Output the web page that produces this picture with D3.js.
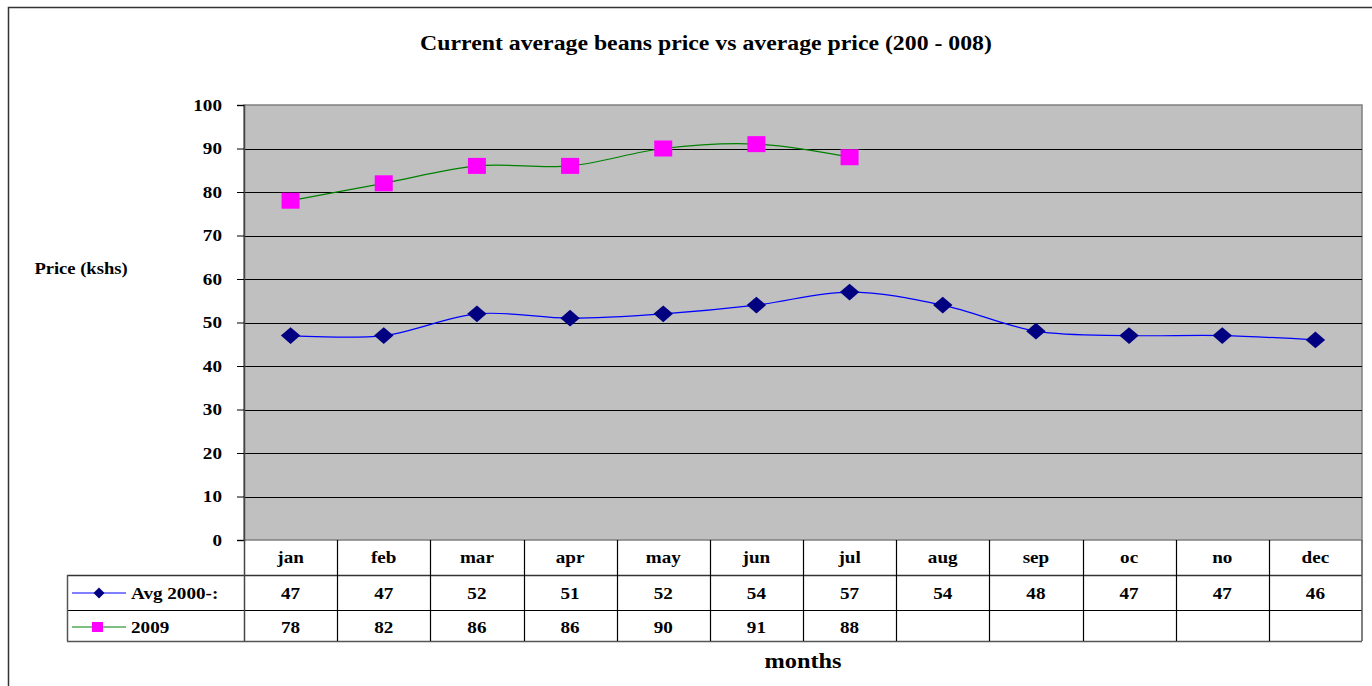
<!DOCTYPE html>
<html>
<head>
<meta charset="utf-8">
<script src="https://cdn.jsdelivr.net/npm/d3@7"></script>
<style>
  body { margin: 0; background: #fff; }
  svg text { font-family: "Liberation Serif", "Times New Roman", serif; font-weight: bold; fill: #000; }
</style>
</head>
<body>
<div id="chart"></div>
<script>
const width = 1372, height = 686;
const plot = { left: 244, right: 1362, top: 105, bottom: 540 };
const stretch = 1.16; // the original text is a little wide

// data
const months = ["jan", "feb", "mar", "apr", "may", "jun", "jul", "aug", "sep", "oc", "no", "dec"];
const avgValues = [47, 47, 52, 51, 52, 54, 57, 54, 48, 47, 47, 46];
const values2009 = [78, 82, 86, 86, 90, 91, 88];
const seriesNames = ["Avg 2000-:", "2009"];
const yTicks = [0, 10, 20, 30, 40, 50, 60, 70, 80, 90, 100];

const svg = d3.select("#chart").append("svg")
  .attr("width", width)
  .attr("height", height);

// text placed at x,y then widened
function label(g, x, y, txt, size, anchor) {
  return g.append("text")
    .attr("transform", `translate(${x},${y}) scale(${stretch},1)`)
    .attr("text-anchor", anchor || "middle")
    .attr("font-size", size)
    .text(txt);
}

// outer frame
svg.append("rect")
  .attr("x", 8.5).attr("y", 7.5)
  .attr("width", width + 10).attr("height", height + 10)
  .attr("fill", "none").attr("stroke", "#333").attr("stroke-width", 1.5);

let x = d3.scaleBand()
  .domain(months)
  .range([plot.left, plot.right]);

let y = d3.scaleLinear()
  .domain([0, 100])
  .range([plot.bottom, plot.top]);

// plot area background
svg.append("rect")
  .attr("x", plot.left).attr("y", plot.top)
  .attr("width", plot.right - plot.left).attr("height", plot.bottom - plot.top)
  .attr("fill", "#c0c0c0")
  .attr("stroke", "#808080").attr("stroke-width", 1.5);

// gridlines
svg.append("g")
  .selectAll("line")
  .data(yTicks.filter(d => d > 0 && d < 100))
  .enter()
  .append("line")
  .attr("x1", plot.left).attr("x2", plot.right)
  .attr("y1", d => Math.round(y(d)) + 0.5).attr("y2", d => Math.round(y(d)) + 0.5)
  .attr("stroke", "#000").attr("stroke-width", 1.2);

// y axis
let yAxis = g => g
  .attr("transform", `translate(${plot.left},0)`)
  .call(d3.axisLeft(y).tickValues(yTicks).tickSize(7).tickPadding(12))
  .call(g => g.select(".domain").attr("stroke", "#444").attr("stroke-width", 1.5))
  .call(g => g.selectAll(".tick line").attr("stroke", "#000"))
  .call(g => g.selectAll(".tick text")
    .attr("font-size", 16.5)
    .attr("font-family", "Liberation Serif, serif")
    .attr("font-weight", "bold")
    .attr("transform", `scale(${stretch},1)`));

svg.append("g").call(yAxis);

// lines (Excel-style smoothing)
const line = d3.line()
  .x((d, i) => x(months[i]) + x.bandwidth() / 2)
  .y(d => y(d))
  .curve(d3.curveCatmullRom.alpha(0));

svg.append("path")
  .datum(avgValues)
  .attr("d", line)
  .attr("fill", "none").attr("stroke", "#0000ff").attr("stroke-width", 1.2);

svg.append("path")
  .datum(values2009)
  .attr("d", line)
  .attr("fill", "none").attr("stroke", "#008000").attr("stroke-width", 1.2);

const diamond = d3.symbol().type(d3.symbolSquare).size(140);

svg.append("g")
  .selectAll("path")
  .data(avgValues)
  .enter()
  .append("path")
  .attr("d", diamond)
  .attr("transform", (d, i) => `translate(${x(months[i]) + x.bandwidth() / 2},${y(d)}) scale(${stretch},1) rotate(45)`)
  .attr("fill", "#000080");

svg.append("g")
  .selectAll("rect")
  .data(values2009)
  .enter()
  .append("rect")
  .attr("x", (d, i) => x(months[i]) + x.bandwidth() / 2 - 9)
  .attr("y", d => y(d) - 8)
  .attr("width", 18).attr("height", 16)
  .attr("fill", "#ff00ff");

// data table
const tableLeft = 67;
const rowY = [540, 575, 610, 641];
const table = svg.append("g");

// horizontal lines
table.append("line")
  .attr("x1", tableLeft).attr("x2", plot.right)
  .attr("y1", rowY[1] + 0.5).attr("y2", rowY[1] + 0.5)
  .attr("stroke", "#333").attr("stroke-width", 1.5);
table.append("line")
  .attr("x1", tableLeft).attr("x2", plot.right)
  .attr("y1", rowY[2] + 0.5).attr("y2", rowY[2] + 0.5)
  .attr("stroke", "#000").attr("stroke-width", 1.2);
table.append("line")
  .attr("x1", tableLeft).attr("x2", plot.right)
  .attr("y1", rowY[3] + 0.5).attr("y2", rowY[3] + 0.5)
  .attr("stroke", "#555").attr("stroke-width", 1.5);
table.append("line")
  .attr("x1", tableLeft + 0.5).attr("x2", tableLeft + 0.5)
  .attr("y1", rowY[1]).attr("y2", rowY[3])
  .attr("stroke", "#555").attr("stroke-width", 1.5);

// vertical lines
table.selectAll(".vline")
  .data(months.slice(1))
  .enter()
  .append("line")
  .attr("class", "vline")
  .attr("x1", d => Math.round(x(d)) + 0.5).attr("x2", d => Math.round(x(d)) + 0.5)
  .attr("y1", rowY[0]).attr("y2", rowY[3])
  .attr("stroke", "#000").attr("stroke-width", 1.2);
table.append("line")
  .attr("x1", plot.left + 0.5).attr("x2", plot.left + 0.5)
  .attr("y1", rowY[0]).attr("y2", rowY[3])
  .attr("stroke", "#444").attr("stroke-width", 1.5);
table.append("line")
  .attr("x1", plot.right).attr("x2", plot.right)
  .attr("y1", rowY[0]).attr("y2", rowY[3])
  .attr("stroke", "#555").attr("stroke-width", 1.5);

// month labels and values
months.forEach(m => label(table, x(m) + x.bandwidth() / 2, 563, m, 16.5));
avgValues.forEach((v, i) => label(table, x(months[i]) + x.bandwidth() / 2, 599, v, 16.5));
values2009.forEach((v, i) => label(table, x(months[i]) + x.bandwidth() / 2, 633, v, 16.5));

// legend keys
table.append("line")
  .attr("x1", 72).attr("x2", 126).attr("y1", 593).attr("y2", 593)
  .attr("stroke", "#0000ff").attr("stroke-width", 1.2);
table.append("path")
  .attr("d", d3.symbol().type(d3.symbolSquare).size(60))
  .attr("transform", "translate(99,593) rotate(45)")
  .attr("fill", "#000080");
label(table, 131, 599, seriesNames[0], 16.5, "start");

table.append("line")
  .attr("x1", 72).attr("x2", 126).attr("y1", 627).attr("y2", 627)
  .attr("stroke", "#008000").attr("stroke-width", 1.2);
table.append("rect")
  .attr("x", 92).attr("y", 622).attr("width", 11).attr("height", 10)
  .attr("fill", "#ff00ff");
label(table, 131, 633, seriesNames[1], 16.5, "start");

// titles
label(svg, 706, 50, "Current average beans price vs average price (200 - 008)", 20.5);
label(svg, 81, 274, "Price (kshs)", 16);
label(svg, 803, 668, "months", 21);
</script>
</body>
</html>
